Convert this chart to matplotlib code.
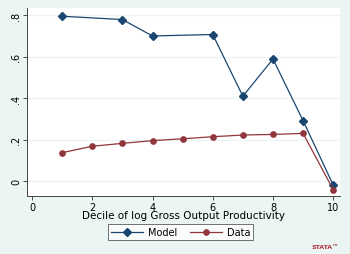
import matplotlib
matplotlib.use("Agg")
import matplotlib.pyplot as plt

model_x = [1, 3, 4, 6, 7, 8, 9, 10]
model_y = [0.795, 0.779, 0.700, 0.707, 0.410, 0.589, 0.292, -0.018]
data_x = [1, 2, 3, 4, 5, 6, 7, 8, 9, 10]
data_y = [0.138, 0.169, 0.183, 0.196, 0.205, 0.215, 0.223, 0.226, 0.231, -0.040]
xticks = [0, 2, 4, 6, 8, 10]
yticks = [0, 0.2, 0.4, 0.6, 0.8]
ytick_labels = ["0", ".2", ".4", ".6", ".8"]

navy = "#1a476f"
maroon = "#90353b"
bg = "#eaf5f4"

fig = plt.figure(figsize=(3.5, 2.55), dpi=100, facecolor=bg)
ax = fig.add_axes([0.076, 0.227, 0.895, 0.738])
ax.set_facecolor("white")

ax.plot(model_x, model_y, color=navy, marker="D", markersize=3.8, lw=0.9, label="Model")
ax.plot(data_x, data_y, color=maroon, marker="o", markersize=3.8, lw=0.9, label="Data")

ax.set_xlim(-0.18, 10.22)
ax.set_ylim(-0.071, 0.835)
ax.set_xticks(xticks)
ax.set_yticks(yticks)
ax.set_yticklabels(ytick_labels, rotation=90, va="center")
ax.tick_params(labelsize=7, length=3, width=0.6, color="#333333", pad=1)
ax.grid(axis="y", color="#eaf2f3", lw=0.8)
ax.set_axisbelow(True)
for s in ["top", "right"]:
    ax.spines[s].set_visible(False)
for s in ["left", "bottom"]:
    ax.spines[s].set_color("#444444")
    ax.spines[s].set_linewidth(0.7)
ax.set_xlabel("Decile of log Gross Output Productivity", fontsize=7.5, labelpad=-1)

leg = fig.legend(loc="center", bbox_to_anchor=(0.516, 0.086), ncol=2, fontsize=7,
                 frameon=True, fancybox=False, edgecolor="#333333", facecolor="white",
                 handlelength=3.3, columnspacing=1.3, borderpad=0.3, handletextpad=0.5)
leg.get_frame().set_linewidth(0.6)

fig.text(0.93, 0.03, "STATA™", fontsize=4.5, color="#b03040", fontweight="bold", ha="center", va="center")

fig.savefig("out.png", dpi=100, facecolor=bg)
